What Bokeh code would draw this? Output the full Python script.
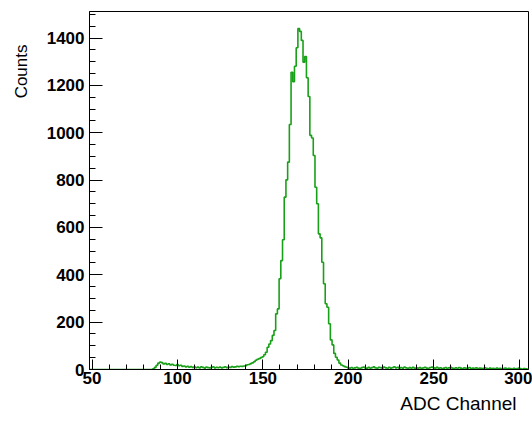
from bokeh.plotting import figure
from bokeh.models import Range1d, SingleIntervalTicker, Title
from bokeh.embed import file_html
from bokeh.resources import INLINE

# ---- data ----
first_bin = 49          # bins are 1 ADC channel wide, centred on integers 49..305
counts_empty = [0] * 37  # channels 49-85
counts_low = [3, 9, 18, 27, 31, 29, 23, 26, 21, 24,
              19, 22, 18, 17, 21, 16, 18, 13, 15, 11,
              13, 10, 12, 9, 11, 8, 10, 7, 11, 9,
              6, 10, 8, 7, 9, 11, 7, 9, 8, 10,
              7, 9, 11, 8, 10, 9, 12, 10, 11, 13,
              12, 14, 13, 15, 16]                       # channels 86-140
counts_peak = [20, 21, 25, 28, 33, 39, 43, 46, 50, 54,
               62, 73, 94, 108, 122, 144, 165, 235, 256, 383,
               460, 548, 728, 801, 876, 1035, 1255, 1215, 1281, 1359,
               1440, 1428, 1390, 1298, 1322, 1232, 1153, 989, 978, 904,
               770, 700, 573, 556, 453, 362, 278, 263, 193, 125,
               104, 68, 52, 40, 27, 19, 16, 12, 10, 7]   # channels 141-200
counts_high = [6, 8, 5, 7, 9, 6, 4, 8, 10, 7,
               5, 9, 6, 8, 11, 7, 5, 9, 8, 6,
               10, 7, 5, 9, 6, 8, 11, 7, 9, 5,
               8, 6, 10, 7, 4, 8, 6, 9, 5, 7,
               6, 8, 4, 7, 9, 6, 5, 8, 10, 7,
               6, 9, 5, 7, 4, 6, 8, 5, 7, 9,
               6, 4, 7, 5, 8, 6, 3, 7, 5, 6,
               8, 4, 6, 5, 7, 3, 6, 5, 4, 7,
               5, 3, 6, 4, 5, 3, 6, 4, 5, 2,
               4, 6, 3, 5, 4, 2, 5, 3, 4, 6,
               3, 2, 4, 3, 2]                           # channels 201-305
x_title = "ADC Channel"
y_title = "Counts"

counts = counts_empty + counts_low + counts_peak + counts_high
edges = [first_bin - 0.5 + i for i in range(len(counts) + 1)]
step_y = counts + [counts[-1]]

# ---- figure ----
p = figure(width=532, height=423, output_backend="svg", toolbar_location=None,
           x_range=Range1d(edges[0], edges[-1]), y_range=Range1d(0, 1512),
           min_border_left=87, min_border_right=4, min_border_top=11,
           min_border_bottom=54)
p.grid.visible = False
p.outline_line_color = "black"
p.outline_line_width = 1
p.background_fill_color = "white"
p.border_fill_color = "white"

p.step(x=edges, y=step_y, mode="after", line_color="#19a019", line_width=1.6)

label_font = "Liberation Sans"
for ax in (p.xaxis[0], p.yaxis[0]):
    ax.axis_line_color = "black"
    ax.major_tick_line_color = "black"
    ax.minor_tick_line_color = "black"
    ax.major_tick_out = 0
    ax.minor_tick_out = 0
    ax.major_label_text_font = label_font
    ax.major_label_text_font_size = "17px"
    ax.major_label_text_font_style = "bold"
    ax.major_label_text_color = "black"

p.xaxis.ticker = SingleIntervalTicker(interval=50, num_minor_ticks=5)
p.xaxis.major_tick_in = 10
p.xaxis.minor_tick_in = 5
p.xaxis.major_label_standoff = 2

p.yaxis.ticker = SingleIntervalTicker(interval=200, num_minor_ticks=4)
p.yaxis.major_tick_in = 13
p.yaxis.minor_tick_in = 6
p.yaxis.major_label_standoff = 5

p.add_layout(Title(text=x_title, align="right", offset=12, vertical_align="bottom",
                   standoff=9, text_font=label_font, text_font_size="19px",
                   text_font_style="normal", text_color="black"), "below")
p.add_layout(Title(text=y_title, align="right", offset=33, vertical_align="top",
                   standoff=22, text_font=label_font, text_font_size="17px",
                   text_font_style="normal", text_color="black"), "left")

open("out.html", "w").write(file_html(p, INLINE))
